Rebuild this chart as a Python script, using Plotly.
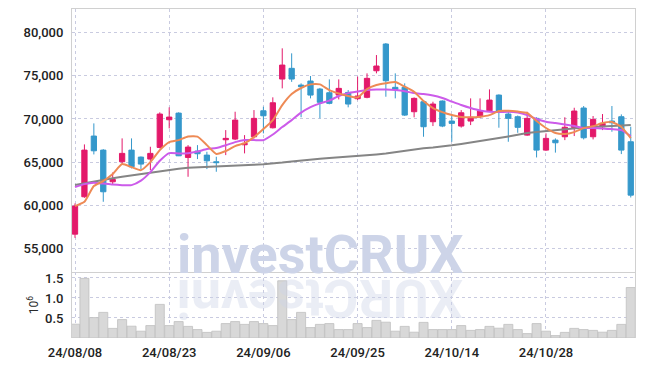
import plotly.graph_objects as go

dates = ["24/08/08","24/08/09","24/08/12","24/08/13","24/08/14","24/08/16","24/08/19","24/08/20","24/08/21","24/08/22",
         "24/08/23","24/08/26","24/08/27","24/08/28","24/08/29","24/08/30","24/09/02","24/09/03","24/09/04","24/09/05",
         "24/09/06","24/09/09","24/09/10","24/09/11","24/09/12","24/09/13","24/09/19","24/09/20","24/09/23","24/09/24",
         "24/09/25","24/09/26","24/09/27","24/09/30","24/10/02","24/10/04","24/10/07","24/10/08","24/10/10","24/10/11",
         "24/10/14","24/10/15","24/10/16","24/10/17","24/10/18","24/10/21","24/10/22","24/10/23","24/10/24","24/10/25",
         "24/10/28","24/10/29","24/10/30","24/10/31","24/11/01","24/11/04","24/11/05","24/11/06","24/11/07","24/11/08"]

open_ = [56650, 60980, 68020, 66390, 62720, 65040, 66390, 65580, 65350, 66700,
         69910, 70680, 65540, 66280, 65810, 65040, 67590, 67670, 67010, 67940,
         70950, 68980, 74630, 75870, 73930, 74400, 73470, 73040, 72770, 73080,
         72350, 72510, 75590, 78690, 73670, 73670, 70840, 72000, 69680, 72080,
         69760, 69180, 69760, 70260, 70950, 72770, 70570, 70260, 68130, 70070,
         66390, 67550, 67940, 69000, 71270, 67940, 69100, 69760, 70260, 67360]
high = [60210, 67050, 69490, 66500, 63800, 67750, 67750, 65650, 66780, 70770,
        71350, 70770, 66970, 66970, 66200, 65620, 68710, 70840, 68130, 71030,
        71420, 72510, 78190, 77610, 74130, 74980, 73600, 74590, 74590, 73350,
        74910, 75290, 77410, 78800, 75290, 74130, 72500, 72100, 72000, 72150,
        70450, 71030, 72390, 72390, 73430, 72850, 71030, 70400, 70840, 70200,
        68330, 67750, 70200, 71300, 71500, 70340, 70570, 71500, 70530, 69100]
low = [56220, 60860, 65890, 60400, 62410, 64850, 64270, 64190, 64070, 66590,
       68910, 65700, 63300, 65350, 64190, 63880, 65810, 67550, 66010, 67750,
       68330, 68900, 73550, 74300, 70200, 72390, 70070, 71700, 72270, 71350,
       72190, 72400, 75290, 72580, 72390, 70350, 70190, 67940, 69180, 69050,
       67360, 69000, 69290, 70100, 70850, 68990, 67360, 68400, 68050, 65540,
       66300, 66100, 67550, 68020, 67630, 67630, 68710, 68520, 65930, 60900]
close = [59900, 66390, 66310, 61560, 62990, 66010, 64460, 64770, 66010, 70570,
         70220, 65730, 66740, 65970, 65150, 64940, 67750, 69870, 67170, 70070,
         70370, 71880, 76250, 74630, 73740, 72770, 71930, 71810, 73550, 71730,
         72660, 74710, 76140, 74430, 73430, 70450, 72390, 69100, 71730, 69180,
         69490, 70720, 70190, 70920, 72190, 70920, 70070, 69030, 70070, 66390,
         67750, 67240, 69040, 70920, 67820, 69950, 69490, 69560, 66390, 61170]

ma_short = [59900, 60400, 62220, 62800, 63610, 64770, 64420, 64070, 65000, 66390,
            67320, 67550, 67960, 67960, 66970, 65950, 66290, 66860, 67200, 67900,
            68830, 69870, 71610, 72890, 73590, 74010, 74010, 73350, 72950, 72660,
            72500, 73470, 73930, 74130, 74280, 73740, 73160, 72080, 71270, 70800,
            70450, 70220, 70190, 70260, 70450, 70920, 70950, 70860, 70690, 69760,
            68950, 68370, 68250, 68480, 68940, 69150, 69530, 69650, 69060, 67780]
ma_mid = [62100, 62450, 62620, 62510, 62390, 62330, 62330, 62850, 63840, 65150,
          66040, 66010, 66040, 66220, 66510, 66630, 66950, 67320, 67550, 67550,
          67550, 68200, 69060, 69870, 70740, 71380, 71810, 72130, 72660, 73000,
          73180, 73350, 73410, 73410, 73350, 73220, 73000, 72890, 72720, 72430,
          72020, 71620, 71270, 70980, 70840, 70800, 70840, 70740, 70450, 70000,
          69690, 69530, 69360, 69180, 68950, 68950, 68890, 68830, 68710, 68020]
ma_long = [62340, 62550, 62760, 62970, 63130, 63300, 63460, 63630, 63800, 63960,
           64090, 64220, 64340, 64380, 64420, 64460, 64500, 64550, 64600, 64680,
           64750, 64830, 64950, 65080, 65200, 65290, 65380, 65470, 65540, 65620,
           65700, 65800, 65890, 65990, 66160, 66340, 66510, 66610, 66700, 66800,
           66950, 67110, 67260, 67440, 67610, 67790, 67980, 68180, 68370, 68480,
           68600, 68710, 68810, 68900, 69000, 69070, 69130, 69200, 69250, 69290]

volume_m = [0.345, 1.49, 0.51, 0.64, 0.24, 0.46, 0.295, 0.17, 0.31, 0.84,
            0.31, 0.41, 0.29, 0.21, 0.14, 0.17, 0.36, 0.41, 0.34, 0.41,
            0.36, 0.31, 1.43, 0.46, 0.64, 0.26, 0.34, 0.36, 0.21, 0.21,
            0.36, 0.26, 0.44, 0.395, 0.17, 0.29, 0.145, 0.39, 0.21, 0.21,
            0.21, 0.31, 0.19, 0.21, 0.29, 0.245, 0.34, 0.21, 0.11, 0.36,
            0.17, 0.06, 0.14, 0.24, 0.21, 0.19, 0.145, 0.19, 0.34, 1.26]

price_ticks = [55000, 60000, 65000, 70000, 75000, 80000]
vol_ticks = [0.5, 1.0, 1.5]
vol_ticktext = ["0.5", "1.0", "1.5"]
date_ticks = [dates[i] for i in (0, 10, 20, 30, 40, 50)]

UP = "#E3196A"
DOWN = "#3598CB"
GRID = "#C9CBE0"
AXLINE = "#D0D0D0"
FONT = "Roboto"

fig = go.Figure()

fig.add_trace(go.Scatter(x=dates, y=ma_long, mode="lines", line=dict(color="#858585", width=2),
                         xaxis="x", yaxis="y", hoverinfo="skip"))
fig.add_trace(go.Scatter(x=dates, y=ma_mid, mode="lines", line=dict(color="#CC5BEA", width=2, shape="spline", smoothing=0.5),
                         xaxis="x", yaxis="y", hoverinfo="skip"))
fig.add_trace(go.Scatter(x=dates, y=ma_short, mode="lines", line=dict(color="#EE8A55", width=2, shape="spline", smoothing=0.5),
                         xaxis="x", yaxis="y", hoverinfo="skip"))
fig.add_trace(go.Candlestick(x=dates, open=open_, high=high, low=low, close=close,
                             increasing=dict(line=dict(color=UP, width=1), fillcolor=UP),
                             decreasing=dict(line=dict(color=DOWN, width=1), fillcolor=DOWN),
                             whiskerwidth=0, xaxis="x", yaxis="y"))
fig.add_trace(go.Bar(x=dates, y=volume_m, marker=dict(color="#D8D8D8", line=dict(color="#BFBFBF", width=0.8)),
                     xaxis="x2", yaxis="y2"))

vol_top = (337.8 - 272.3) / 328.8

axis_font = dict(family=FONT, size=13, color="#222222", weight=500)

# the page body has an 8px default margin, so the figure is sized and margined to compensate
fig.update_layout(
    width=637, height=358,
    margin=dict(l=64, r=10, t=1, b=28.2, autoexpand=False),
    paper_bgcolor="white", plot_bgcolor="white",
    showlegend=False, bargap=0.04, boxgap=0.2,
    font=dict(family=FONT),
    xaxis=dict(type="category", domain=[0, 1], anchor="y", range=[-0.32, 59.45], automargin=False,
               tickmode="array", tickvals=date_ticks, showticklabels=False,
               showgrid=True, gridcolor=GRID, griddash="dot", gridwidth=1,
               showline=True, linecolor=AXLINE, linewidth=1, mirror=True,
               rangeslider=dict(visible=False), zeroline=False, ticks=""),
    yaxis=dict(domain=[vol_top, 1], anchor="x", range=[52206, 82750], automargin=False,
               tickmode="array", tickvals=price_ticks, tickformat=",",
               tickfont=axis_font, ticks="outside", ticklen=5, tickcolor="rgba(0,0,0,0)",
               showgrid=True, gridcolor=GRID, griddash="dot", gridwidth=1,
               showline=True, linecolor=AXLINE, linewidth=1, mirror=True, zeroline=False),
    xaxis2=dict(type="category", domain=[0, 1], anchor="y2", matches="x", range=[-0.32, 59.45], automargin=False,
                tickmode="array", tickvals=date_ticks, ticktext=date_ticks,
                tickfont=axis_font, ticks="outside", ticklen=2, tickcolor="rgba(0,0,0,0)",
                showgrid=True, gridcolor=GRID, griddash="dot", gridwidth=1,
                showline=False, zeroline=False),
    yaxis2=dict(domain=[0, vol_top], anchor="x2", range=[0, 1.6375], automargin=False,
                tickmode="array", tickvals=vol_ticks, ticktext=vol_ticktext,
                tickfont=axis_font, ticks="outside", ticklen=5, tickcolor="rgba(0,0,0,0)",
                showgrid=True, gridcolor=GRID, griddash="dot", gridwidth=1,
                showline=True, linecolor=AXLINE, linewidth=1, mirror=True, zeroline=False,
                title=dict(text="10<sup>6</sup>", font=dict(family=FONT, size=12, color="#2a2a2a"), standoff=3)),
)

fig.add_annotation(text="investCRUX", xref="paper", yref="paper", x=0.4405, y=0.2549,
                   xanchor="center", yanchor="middle", showarrow=False,
                   font=dict(family=FONT, size=54, color="#CDD4E8", weight="bold"))
fig.add_annotation(text="XURCtsevni", xref="paper", yref="paper", x=0.4405, y=0.122,
                   xanchor="center", yanchor="middle", showarrow=False, textangle=180, opacity=0.4,
                   font=dict(family=FONT, size=54, color="#CDD4E8", weight="bold"))

fig.write_html("out.html")
